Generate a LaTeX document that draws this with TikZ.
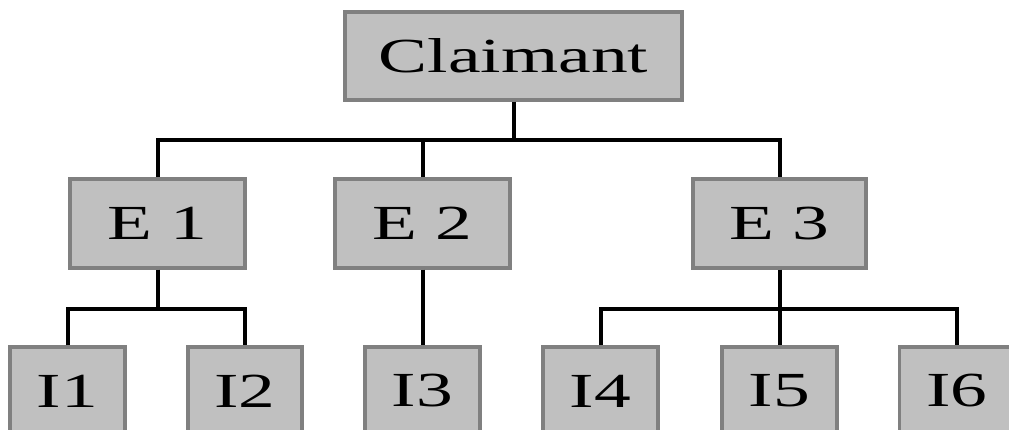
\documentclass[tikz,border=0pt]{standalone}
\usepackage{fontspec}
\newfontfamily\wideserif[FakeStretch=1.5]{Liberation Serif}
\definecolor{boxfill}{RGB}{192,192,192}
\definecolor{boxline}{RGB}{128,128,128}
\tikzset{
  box/.style={draw=boxline, fill=boxfill, line width=3.5pt, inner sep=0pt, font=\wideserif\fontsize{49}{49}\selectfont},
  conn/.style={draw=black, line width=4pt}
}
\begin{document}
\begin{tikzpicture}[x=1pt,y=-1pt]
\useasboundingbox (0,0) rectangle (1009,430);
\clip (0,0) rectangle (1009,430);
\node[box, minimum width=337pt, minimum height=88pt] (C) at (513.5,56) {Claimant};
\node[box, minimum width=175pt, minimum height=89pt] (E1) at (157.5,223.5) {E 1};
\node[box, minimum width=175pt, minimum height=89pt] (E2) at (422.5,223.5) {E 2};
\node[box, minimum width=173pt, minimum height=89pt] (E3) at (779.5,223.5) {E 3};
\node[box, minimum width=115pt, minimum height=88pt] (I1) at (67.5,391) {I1};
\node[box, minimum width=114pt, minimum height=88pt] (I2) at (245,391) {I2};
\node[box, minimum width=115pt, minimum height=88pt] (I3) at (422.5,391) {I3};
\node[box, minimum width=115pt, minimum height=88pt] (I4) at (600.5,391) {I4};
\node[box, minimum width=115pt, minimum height=88pt] (I5) at (779.5,391) {I5};
\node[box, minimum width=115pt, minimum height=88pt] (I6) at (957,391) {I6};
% connectors
\coordinate (b0) at ([yshift=-38pt]C.south);
\draw[conn] (C.south) -- (b0);
\draw[conn] (E1.north) |- (b0) -| (E3.north);
\draw[conn] (E2.north) -- (E2.north |- b0);
\coordinate (b1) at ([yshift=-39pt]E1.south);
\draw[conn] (E1.south) -- (b1);
\draw[conn] (I1.north) |- (b1) -| (I2.north);
\draw[conn] (E2.south) -- (I3.north);
\coordinate (b3) at ([yshift=-39pt]E3.south);
\draw[conn] (E3.south) -- (b3);
\draw[conn] (I4.north) |- (b3) -| (I6.north);
\draw[conn] (b3) -- (I5.north);
\end{tikzpicture}
\end{document}
